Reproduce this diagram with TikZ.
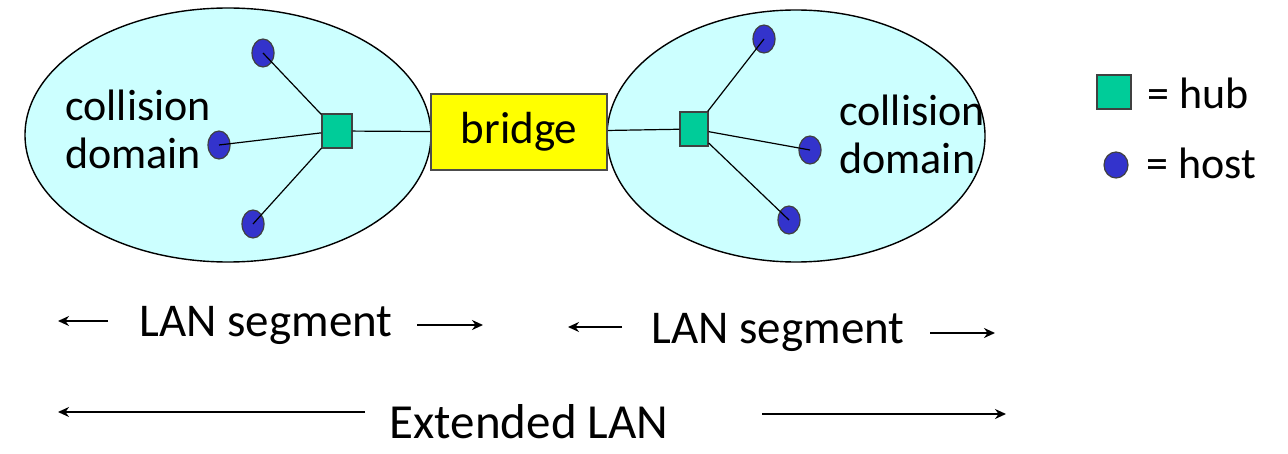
\documentclass[tikz,border=0pt]{standalone}
\usepackage{fontspec}
\setmainfont{Carlito}
\usetikzlibrary{shapes.geometric,arrows.meta}
\definecolor{domfill}{RGB}{204,255,255}
\definecolor{hubgreen}{RGB}{0,204,153}
\definecolor{hostblue}{RGB}{51,51,204}
\definecolor{bridgeyellow}{RGB}{255,255,0}
\tikzset{
  domainshape/.style={ellipse, draw=black, line width=0.7pt, fill=domfill, inner sep=0pt},
  hubbox/.style={rectangle, draw=black!75, line width=0.6pt, fill=hubgreen, inner sep=0pt},
  hostdot/.style={ellipse, draw=black!75, line width=0.6pt, fill=hostblue, inner sep=0pt, minimum width=11pt, minimum height=14pt},
  bridgebox/.style={rectangle, draw=black!70, line width=0.8pt, fill=bridgeyellow, inner sep=0pt, minimum width=88pt, minimum height=38pt},
  bigtext/.style={font=\fontsize{22}{24}\selectfont, inner sep=0pt},
  segtext/.style={font=\fontsize{23.5}{26}\selectfont, inner sep=0pt},
  exttext/.style={font=\fontsize{24.5}{27}\selectfont, inner sep=0pt},
  wire/.style={line width=0.6pt, draw=black},
  span/.style={line width=0.9pt, -{Stealth[length=5.5pt,width=5pt]}}
}
\begin{document}
\begin{tikzpicture}[x=0.5pt,y=-0.5pt]
\useasboundingbox (0,0) rectangle (1288,454);
% domains
\node[domainshape, minimum width=203pt, minimum height=127pt] (ldom) at (228,135) {};
\node[domainshape, minimum width=189pt, minimum height=126pt] (rdom) at (796,136) {};
% bridge
\node[bridgebox, font=\fontsize{22.5}{24}\selectfont] (bridge) at (519,132) {bridge};
% hubs
\node[hubbox, minimum width=15pt, minimum height=17pt] (lhub) at (337,131) {};
\node[hubbox, minimum width=14pt, minimum height=17pt] (rhub) at (694,129) {};
% hosts
\node[hostdot] (lh1) at (263,53) {};
\node[hostdot] (lh2) at (219,145) {};
\node[hostdot] (lh3) at (253,224) {};
\node[hostdot] (rh1) at (764,39) {};
\node[hostdot] (rh2) at (810,150) {};
\node[hostdot] (rh3) at (789,220) {};
% wires
\draw[wire] (lh1.center) -- (lhub);
\draw[wire] (lh2.center) -- (lhub);
\draw[wire] (lh3.center) -- (lhub);
\draw[wire] (rh1.center) -- (rhub);
\draw[wire] (rh2.center) -- (rhub);
\draw[wire] (rh3.center) -- (rhub);
\draw[wire] (lhub) -- (bridge);
\draw[wire] (bridge) -- (rhub);
% domain labels
\node[bigtext, align=left, anchor=west] (ltext) at (65,129) {collision\\domain};
\node[bigtext, align=left, anchor=west] (rtext) at (839,134) {collision\\domain};
% legend
\node[hubbox, minimum width=17pt, minimum height=17pt] (leghub) at (1114,92) {};
\node[bigtext, anchor=west] (leghubtext) at (1147,93) {= hub};
\node[hostdot, minimum width=12pt, minimum height=13pt] (leghost) at (1116,165) {};
\node[bigtext, anchor=west] (leghosttext) at (1146,163) {= host};
% LAN segments
\node[segtext] (seg1) at (266,325) {LAN segment};
\node[segtext] (seg2) at (778,332) {LAN segment};
\node[exttext] (ext) at (529,422) {Extended LAN};
\coordinate (s1l) at (58,321);
\coordinate (s1la) at (108,321);
\coordinate (s1r) at (483,325);
\coordinate (s1ra) at (417,325);
\coordinate (s2l) at (568,327);
\coordinate (s2la) at (622,327);
\coordinate (s2r) at (995,333);
\coordinate (s2ra) at (930,333);
\coordinate (el) at (58,412);
\coordinate (ela) at (365,412);
\coordinate (er) at (1006,414);
\coordinate (era) at (762,414);
\draw[span] (s1la) -- (s1l);
\draw[span] (s1ra) -- (s1r);
\draw[span] (s2la) -- (s2l);
\draw[span] (s2ra) -- (s2r);
\draw[span] (ela) -- (el);
\draw[span] (era) -- (er);
\end{tikzpicture}
\end{document}
